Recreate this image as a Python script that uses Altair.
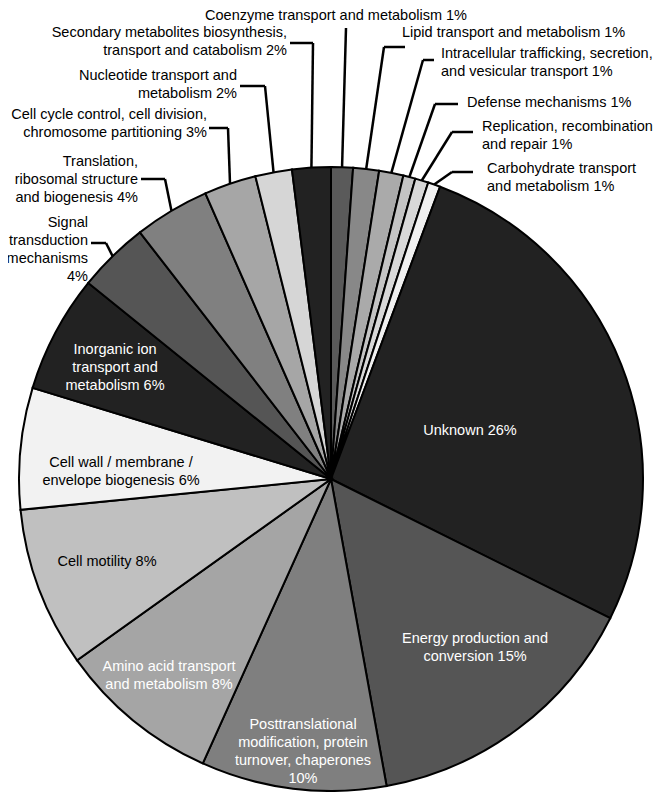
import altair as alt
import pandas as pd

# ---- data (clockwise from 12 o'clock) ----
categories = [
    "Coenzyme transport and metabolism", "Lipid transport and metabolism",
    "Intracellular trafficking, secretion, and vesicular transport",
    "Defense mechanisms", "Replication, recombination and repair",
    "Carbohydrate transport and metabolism", "Unknown",
    "Energy production and conversion",
    "Posttranslational modification, protein turnover, chaperones",
    "Amino acid transport and metabolism", "Cell motility",
    "Cell wall / membrane / envelope biogenesis",
    "Inorganic ion transport and metabolism", "Signal transduction mechanisms",
    "Translation, ribosomal structure and biogenesis",
    "Cell cycle control, cell division, chromosome partitioning",
    "Nucleotide transport and metabolism",
    "Secondary metabolites biosynthesis, transport and catabolism",
]
values = [1.13, 1.34, 1.26, 0.63, 0.69, 0.64, 26.7, 14.8, 9.6, 8.4, 8.3,
          6.3, 6.1, 3.7, 3.9, 2.7, 1.9, 2.0]
labels = [
    "Coenzyme transport and metabolism 1%",
    "Lipid transport and metabolism 1%",
    "Intracellular trafficking,  secretion,\nand vesicular transport 1%",
    "Defense mechanisms 1%",
    "Replication, recombination\nand repair 1%",
    "Carbohydrate transport\nand metabolism 1%",
    "Unknown 26%",
    "Energy production and\nconversion 15%",
    "Posttranslational\nmodification, protein\nturnover, chaperones\n10%",
    "Amino acid transport\nand metabolism 8%",
    "Cell motility 8%",
    "Cell wall / membrane /\nenvelope biogenesis 6%",
    "Inorganic ion\ntransport and\nmetabolism 6%",
    "Signal\ntransduction\nmechanisms\n4%",
    "Translation,\nribosomal structure\nand biogenesis 4%",
    "Cell cycle control, cell division,\nchromosome partitioning 3%",
    "Nucleotide transport and\nmetabolism 2%",
    "Secondary metabolites biosynthesis,\ntransport and catabolism 2%",
]

# ---- styles ----
shades = ["#5a5a5a", "#888888", "#aaaaaa", "#c4c4c4", "#d8d8d8", "#f0f0f0",
          "#222222", "#555555", "#7f7f7f", "#a5a5a5", "#c0c0c0", "#f2f2f2",
          "#222222", "#555555", "#808080", "#a6a6a6", "#d6d6d6", "#222222"]
text_colors = ["black"] * 6 + ["white"] * 4 + ["black", "black", "white"] + ["black"] * 5

# ---- layout (pixel offsets from pie centre, y up; text y = block centre) ----
kinds = ["top", "right", "right", "right", "right", "right",
         "in", "in", "in", "in", "in", "in", "in",
         "left", "left", "left", "left", "left"]
text_x = [5, 71, 110, 136, 151, 156, 139, 144, -28, -162, -224, -210, -216,
          -243, -193, -124, -94, -44]
text_y = [463, 446, 416.5, 376, 343, 301.5, 48, -169, -273, -196.5, -83, 7.5, 111,
          229.5, 299, 355, 394.5, 437.5]
corner_x = [15, 53, 92, 104, 121, 121, 0, 0, 0, 0, 0, 0, 0, -225, -166, -103, -66, -18]
corner_y = [451, 432, 419, 375, 347, 307, 0, 0, 0, 0, 0, 0, 0, 236, 300, 351, 393, 436]
end_x = [15, 74, 103, 127, 142, 142, 0, 0, 0, 0, 0, 0, 0, -240, -190, -122, -91, -41]

R = 312
W, H = 650, 784
XDOM = [-323, 327]
YDOM = [-313, 471]

df = pd.DataFrame({
    "order": list(range(len(categories))),
    "category": categories,
    "value": values,
    "label": labels,
    "shade": shades,
    "tcolor": text_colors,
    "kind": kinds,
    "tx": text_x,
    "ty": text_y,
    "cx": corner_x,
    "cy": corner_y,
    "ex": end_x,
})

xs = alt.Scale(domain=XDOM, nice=False, zero=False)
ys = alt.Scale(domain=YDOM, nice=False, zero=False)

base = alt.Chart(df)

arcs = base.mark_arc(outerRadius=R, stroke="black", strokeWidth=2).encode(
    theta=alt.Theta("value:Q", stack=True),
    order=alt.Order("order:Q"),
    color=alt.Color("shade:N", scale=None),
    x=alt.datum(0, scale=xs, axis=None),
    y=alt.datum(0, scale=ys, axis=None),
)

geo = base.transform_joinaggregate(
    total="sum(value)"
).transform_window(
    cum="sum(value)", sort=[alt.SortField("order", order="ascending")], frame=[None, 0]
).transform_calculate(
    mid="(datum.cum - datum.value / 2) / datum.total * 2 * PI",
    ax=f"{R} * sin(datum.mid)",
    ay=f"{R} * cos(datum.mid)",
)

lead1 = geo.transform_filter("datum.kind != 'in'").mark_rule(
    color="black", strokeWidth=2.5
).encode(
    x=alt.X("ax:Q", scale=xs, axis=None),
    y=alt.Y("ay:Q", scale=ys, axis=None),
    x2="cx:Q",
    y2="cy:Q",
)

lead2 = base.transform_filter("datum.kind == 'left' || datum.kind == 'right'").mark_rule(
    color="black", strokeWidth=2.5
).encode(
    x=alt.X("cx:Q", scale=xs, axis=None),
    y=alt.Y("cy:Q", scale=ys, axis=None),
    x2="ex:Q",
    y2="cy:Q",
)

FONT = "Liberation Sans"
FS = 14.5
LH = 18


def text_layer(kind, align):
    return base.transform_filter(f"datum.kind == '{kind}'").transform_calculate(
        ty1=f"datum.ty + (length(split(datum.label, '\\n')) - 1) * {LH} / 2"
    ).mark_text(
        align=align, baseline="middle", lineBreak="\n", font=FONT,
        fontSize=FS, lineHeight=LH
    ).encode(
        x=alt.X("tx:Q", scale=xs, axis=None),
        y=alt.Y("ty1:Q", scale=ys, axis=None),
        text="label:N",
        color=alt.Color("tcolor:N", scale=None),
    )


chart = alt.layer(
    arcs, lead1, lead2,
    text_layer("in", "center"),
    text_layer("left", "right"),
    text_layer("right", "left"),
    text_layer("top", "center"),
).properties(
    width=W, height=H, padding=0, autosize=alt.AutoSizeParams(type="none")
).configure_view(strokeWidth=0)

chart.save("out.html", embed_options={"renderer": "svg", "actions": False})
